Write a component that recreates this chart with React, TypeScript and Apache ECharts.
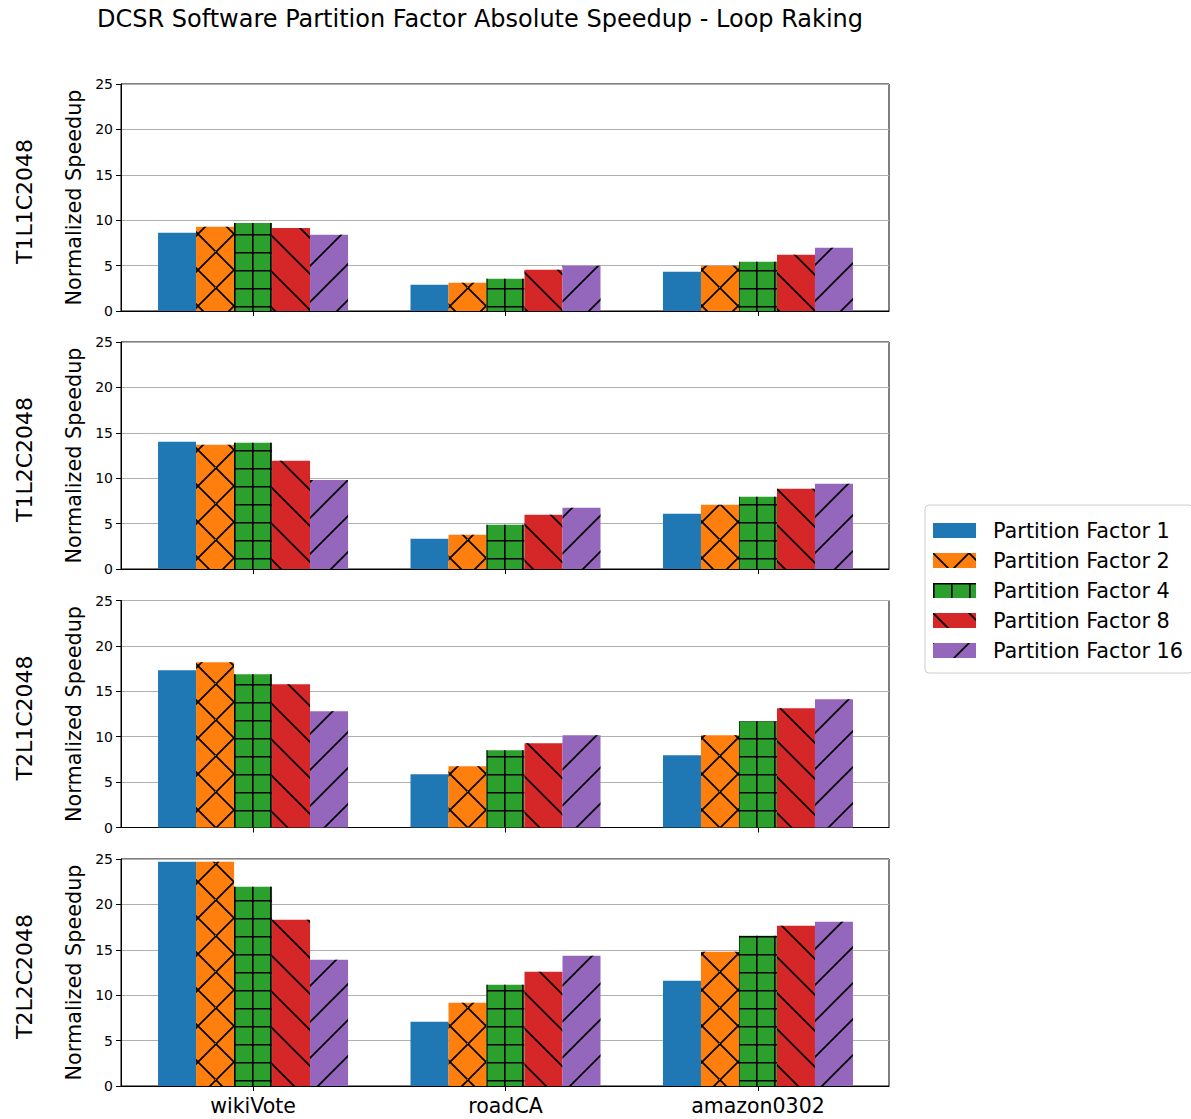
import React, { useEffect, useRef } from "react";
import * as echarts from "echarts";

const categories = ["wikiVote", "roadCA", "amazon0302"];
const seriesNames = [
  "Partition Factor 1",
  "Partition Factor 2",
  "Partition Factor 4",
  "Partition Factor 8",
  "Partition Factor 16",
];
const configNames = ["T1L1C2048", "T1L2C2048", "T2L1C2048", "T2L2C2048"];
const yTicks = [0, 5, 10, 15, 20, 25];

// rows: Partition Factor 1, 2, 4, 8, 16 ; columns: wikiVote, roadCA, amazon0302
const t1l1c2048 = [
  [8.62, 2.9, 4.33],
  [9.28, 3.12, 4.99],
  [9.69, 3.56, 5.43],
  [9.14, 4.55, 6.2],
  [8.41, 4.99, 6.97],
];
const t1l2c2048 = [
  [14.02, 3.34, 6.09],
  [13.69, 3.78, 7.08],
  [13.91, 4.88, 7.96],
  [11.93, 5.98, 8.84],
  [9.8, 6.75, 9.39],
];
const t2l1c2048 = [
  [17.32, 5.87, 7.96],
  [18.2, 6.75, 10.17],
  [16.88, 8.51, 11.7],
  [15.78, 9.28, 13.14],
  [12.81, 10.17, 14.13],
];
const t2l2c2048 = [
  [24.7, 7.08, 11.6],
  [24.7, 9.17, 14.79],
  [21.95, 11.16, 16.55],
  [18.31, 12.59, 17.65],
  [13.91, 14.35, 18.09],
];
const panels = [t1l1c2048, t1l2c2048, t2l1c2048, t2l2c2048];

const colors = ["#1f77b4", "#ff7f0e", "#2ca02c", "#d62728", "#9467bd"];
const FONT = "DejaVu Sans";

// hatch paths
const a = 1.2;
const S = 36;
const slashPath = `M0,${S - a} L${S - a},0 L${S},0 L${S},${a} L${a},${S} L0,${S} Z M0,0 L${a},0 L0,${a} Z M${S},${S} L${S},${S - a} L${S - a},${S} Z`;
const backPath = `M0,0 L${a},0 L${S},${S - a} L${S},${S} L${S - a},${S} L0,${a} Z M${S},0 L${S},${a} L${S - a},0 Z M0,${S} L0,${S - a} L${a},${S} Z`;
const crossPath = slashPath + " " + backPath;
const G = 18;
const t = 1.6;
const plusPath = `M0,0 L${G},0 L${G},${t} L${t},${t} L${t},${G} L0,${G} Z`;

function decal(path: string, size: number) {
  return {
    symbol: "path://" + path,
    symbolSize: 1,
    symbolKeepAspect: false,
    color: "#000",
    dashArrayX: [size, 0],
    dashArrayY: [size, 0],
    rotation: 0,
  };
}
const decals: any[] = [
  null,
  decal(crossPath, S),
  decal(plusPath, G),
  decal(backPath, S),
  decal(slashPath, S),
];

const gridTops = [84, 342, 600.5, 859];
const gridHeight = 227;

export default function App() {
  const ref = useRef<HTMLDivElement>(null);
  useEffect(() => {
    if (!ref.current) return;
    const chart = echarts.init(ref.current, null, { renderer: "svg" });
    const grids = gridTops.map((top) => ({
      left: 121,
      width: 768,
      top,
      height: gridHeight,
      show: true,
      borderColor: "#000",
      borderWidth: 1,
      backgroundColor: "#fff",
    }));
    const xAxes = gridTops.map((_, i) => ({
      type: "value",
      gridIndex: i,
      min: -0.523,
      max: 2.519,
      splitLine: { show: false },
      axisLine: { show: true, onZero: false, lineStyle: { color: "#000", width: 1 } },
      axisTick: {
        show: true,
        customValues: [0, 1, 2],
        length: 5,
        lineStyle: { color: "#000", width: 1 },
      },
      axisLabel: {
        show: i === 3,
        customValues: [0, 1, 2],
        formatter: (v: number) => categories[Math.round(v)] ?? "",
        fontSize: 20.5,
        color: "#000",
        fontFamily: FONT,
        margin: 9,
      },
    }));
    const yAxes = gridTops.map((_, i) => ({
      type: "value",
      gridIndex: i,
      min: yTicks[0],
      max: yTicks[yTicks.length - 1],
      interval: yTicks[1] - yTicks[0],
      name: "Normalized Speedup",
      nameLocation: "middle",
      nameGap: 33,
      nameTextStyle: { fontSize: 20.8, color: "#000", fontFamily: FONT },
      axisLine: { show: true, onZero: false, lineStyle: { color: "#000", width: 1 } },
      axisTick: { show: true, length: 5, lineStyle: { color: "#000", width: 1 } },
      axisLabel: { fontSize: 14, color: "#000", fontFamily: FONT, margin: 8 },
      splitLine: { show: true, lineStyle: { color: "#b0b0b0", width: 1 } },
    }));
    const series: any[] = [];
    panels.forEach((panel, p) => {
      panel.forEach((vals, s) => {
        const itemStyle: any = { color: colors[s] };
        if (decals[s]) itemStyle.decal = decals[s];
        series.push({
          type: "bar",
          name: seriesNames[s],
          xAxisIndex: p,
          yAxisIndex: p,
          barWidth: 38,
          barGap: "0%",
          itemStyle,
          data: vals.map((v, i) => [i, v]),
        });
      });
    });
    const graphic: any[] = [
      {
        type: "text",
        x: 480,
        y: 19,
        style: {
          text: "DCSR Software Partition Factor Absolute Speedup - Loop Raking",
          fontSize: 24,
          fontFamily: FONT,
          fill: "#000",
          align: "center",
          verticalAlign: "middle",
        },
      },
      ...configNames.map((name, i) => ({
        type: "text",
        x: 24,
        y: gridTops[i] + gridHeight / 2 + 4,
        rotation: Math.PI / 2,
        style: {
          text: name,
          fontSize: 22,
          fontFamily: FONT,
          fill: "#000",
          align: "center",
          verticalAlign: "middle",
        },
      })),
    ];
    chart.setOption({
      animation: false,
      backgroundColor: "#fff",
      textStyle: { fontFamily: FONT },
      grid: grids,
      xAxis: xAxes,
      yAxis: yAxes,
      series,
      graphic,
      legend: {
        data: seriesNames,
        orient: "vertical",
        left: 925,
        top: 505,
        padding: [15, 10, 12, 8],
        itemGap: 9,
        itemWidth: 43,
        itemHeight: 15,
        icon: "rect",
        borderColor: "#cccccc",
        borderWidth: 1,
        borderRadius: 4,
        backgroundColor: "#fff",
        textStyle: { fontSize: 20.8, color: "#000", fontFamily: FONT, padding: [0, 0, 0, 12] },
      },
    });
    return () => chart.dispose();
  }, []);
  return (
    <div
      ref={ref}
      style={{ position: "absolute", left: 0, top: 0, width: 1191, height: 1119 }}
    />
  );
}
